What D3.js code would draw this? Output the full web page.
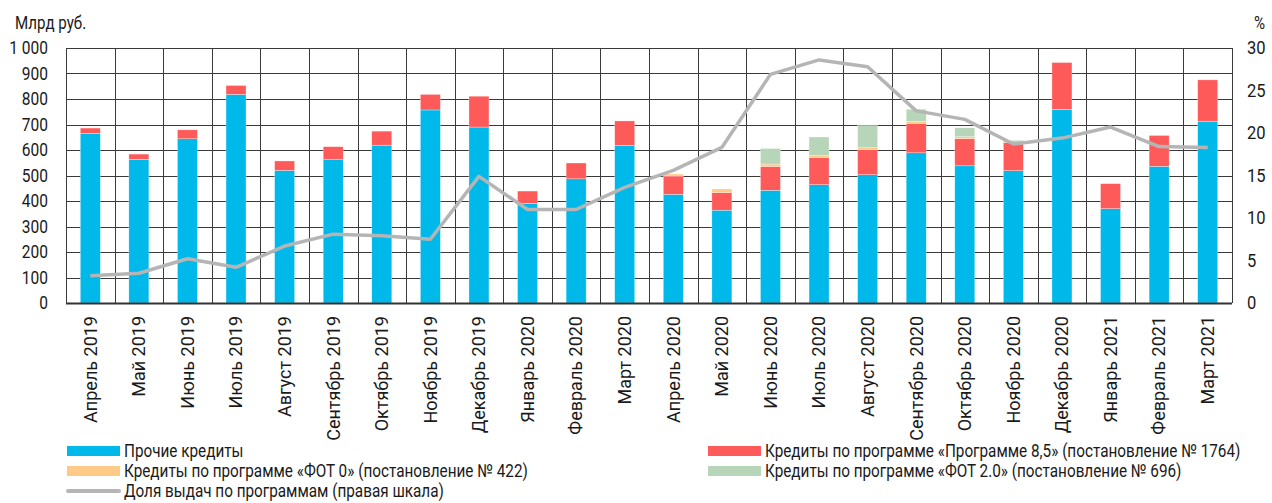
<!DOCTYPE html>
<html>
<head>
<meta charset="utf-8">
<script src="https://cdnjs.cloudflare.com/ajax/libs/d3/7.8.5/d3.min.js"></script>
<style>
  body { margin: 0; background: #fff; }
  svg text { font-family: Roboto, "Noto Sans", sans-serif; fill: #1a1a1a; }
</style>
</head>
<body>
<div id="chart"></div>
<script>
// Месяцы
const months = ["Апрель 2019", "Май 2019", "Июнь 2019", "Июль 2019", "Август 2019", "Сентябрь 2019",
  "Октябрь 2019", "Ноябрь 2019", "Декабрь 2019", "Январь 2020", "Февраль 2020", "Март 2020",
  "Апрель 2020", "Май 2020", "Июнь 2020", "Июль 2020", "Август 2020", "Сентябрь 2020",
  "Октябрь 2020", "Ноябрь 2020", "Декабрь 2020", "Январь 2021", "Февраль 2021", "Март 2021"];

// Серии, млрд руб.
const other   = [665, 563, 644, 818, 520, 562, 619, 757, 690, 391, 487, 618, 426, 364, 442, 464, 503, 589, 538, 519, 759, 370, 536, 713];
const prog85  = [21, 21, 35, 35, 37, 51, 55, 61, 121, 48, 62, 96, 72, 69, 93, 106, 98, 115, 106, 111, 184, 98, 121, 162];
const fot0    = [0, 0, 0, 0, 0, 0, 0, 0, 0, 0, 0, 0, 8, 14, 10, 8, 8, 8, 8, 0, 0, 0, 0, 0];
const fot20   = [0, 0, 0, 0, 0, 0, 0, 0, 0, 0, 0, 0, 0, 0, 61, 73, 87, 48, 35, 8, 0, 0, 0, 0];
// Доля выдач по программам, %
const share   = [3.2, 3.5, 5.2, 4.2, 6.7, 8.1, 7.9, 7.5, 14.9, 11.0, 11.0, 13.6, 15.6, 18.3, 26.9, 28.6, 27.8, 22.6, 21.6, 18.7, 19.4, 20.7, 18.4, 18.3];

const leftTicks = [0, 100, 200, 300, 400, 500, 600, 700, 800, 900, 1000];
const rightTicks = [0, 5, 10, 15, 20, 25, 30];

const colors = { other: "#00b9eb", prog85: "#ff5a5a", fot0: "#ffc987", fot20: "#b7d5b9" };

const legendLeft = [
  { key: "other", label: "Прочие кредиты" },
  { key: "fot0", label: "Кредиты по программе «ФОТ 0» (постановление № 422)" },
  { key: "line", label: "Доля выдач по программам (правая шкала)" }
];
const legendRight = [
  { key: "prog85", label: "Кредиты по программе «Программе 8,5» (постановление № 1764)" },
  { key: "fot20", label: "Кредиты по программе «ФОТ 2.0» (постановление № 696)" }
];

const width = 1272, height = 503;
const margin = { top: 48, right: 40, bottom: 200, left: 66 };
const innerW = width - margin.left - margin.right;
const innerH = height - margin.top - margin.bottom;
const narrow = 0.84; // сжатие шрифта по горизонтали

// Таблица для stack
const table = months.map((m, i) => ({
  month: m, other: other[i], prog85: prog85[i], fot0: fot0[i], fot20: fot20[i]
}));
// порядок снизу вверх: прочие, 8,5, ФОТ 0, ФОТ 2.0
const stack = d3.stack().keys(["other", "prog85", "fot0", "fot20"])(table);

const svg = d3.select("#chart").append("svg")
  .attr("width", width)
  .attr("height", height);

const g = svg.append("g").attr("transform", `translate(${margin.left},${margin.top})`);

const x = d3.scaleBand().domain(months).range([0, innerW]).paddingInner(0).paddingOuter(0);
const y = d3.scaleLinear().domain([0, 1000]).range([innerH, 0]);
const y2 = d3.scaleLinear().domain([0, 30]).range([innerH, 0]);

const fmt = d3.formatLocale({ decimal: ",", thousands: " ", grouping: [3], currency: ["", ""] }).format(",d");

// Сетка
g.append("g")
  .selectAll("line")
  .data(leftTicks)
  .join("line")
  .attr("x1", 0).attr("x2", innerW)
  .attr("y1", d => Math.round(y(d)) + 0.5).attr("y2", d => Math.round(y(d)) + 0.5)
  .attr("stroke", "#3a3a3a").attr("stroke-width", 1);

g.append("g")
  .selectAll("line")
  .data(d3.range(months.length + 1))
  .join("line")
  .attr("x1", d => Math.round(d * x.bandwidth()) + 0.5).attr("x2", d => Math.round(d * x.bandwidth()) + 0.5)
  .attr("y1", 0).attr("y2", innerH)
  .attr("stroke", "#3a3a3a").attr("stroke-width", 1);

// Столбики
const barW = 20;
g.append("g")
  .selectAll("g")
  .data(stack)
  .join("g")
  .attr("fill", d => colors[d.key])
  .selectAll("rect")
  .data(d => d)
  .join("rect")
  .attr("x", d => x(d.data.month) + (x.bandwidth() - barW) / 2)
  .attr("y", d => y(d[1]))
  .attr("width", barW)
  .attr("height", d => Math.max(0, y(d[0]) - y(d[1])))
  .attr("stroke", "#ffffff").attr("stroke-opacity", 0.6).attr("stroke-width", 0.5);

// Нижняя ось
g.append("line")
  .attr("x1", 0).attr("x2", innerW)
  .attr("y1", innerH + 0.5).attr("y2", innerH + 0.5)
  .attr("stroke", "#333").attr("stroke-width", 2);

// Линия доли
const line = d3.line()
  .x((d, i) => x(months[i]) + x.bandwidth() / 2)
  .y(d => y2(d));

g.append("path")
  .datum(share)
  .attr("d", line)
  .attr("fill", "none")
  .attr("stroke", "#b5b5b5")
  .attr("stroke-width", 3.5)
  .attr("stroke-linejoin", "round");

// Левая ось
const yAxis = d3.axisLeft(y).tickValues(leftTicks).tickFormat(fmt).tickSize(0);
g.append("g").call(yAxis)
  .call(s => s.select(".domain").remove())
  .selectAll("text")
  .attr("font-family", null)
  .style("font-size", "18.5px")
  .attr("x", -18 / narrow)
  .attr("transform", `scale(${narrow},1)`);

// Правая ось
const yAxis2 = d3.axisRight(y2).tickValues(rightTicks).tickSize(0);
g.append("g").attr("transform", `translate(${innerW},0)`).call(yAxis2)
  .call(s => s.select(".domain").remove())
  .selectAll("text")
  .attr("font-family", null)
  .style("font-size", "18px")
  .attr("x", 15 / 0.92)
  .attr("transform", "scale(0.92,1)");

// Подписи месяцев
const xAxis = d3.axisBottom(x).tickSize(0).tickPadding(0);
g.append("g").attr("transform", `translate(0,${innerH})`).call(xAxis)
  .call(s => s.select(".domain").remove())
  .selectAll("text")
  .attr("font-family", null)
  .style("font-size", "18px")
  .attr("transform", "rotate(-90)")
  .attr("text-anchor", "end")
  .attr("x", -13)
  .attr("y", 0)
  .attr("dy", "0.35em");

// Единицы
svg.append("text").attr("transform", `translate(15,29) scale(${narrow},1)`)
  .style("font-size", "18px").text("Млрд руб.");
svg.append("text").attr("transform", `translate(1265,29) scale(${narrow},1)`)
  .attr("text-anchor", "end").style("font-size", "18px").text("%");

// Легенда
function drawLegend(items, x0, y0, rowH) {
  const lg = svg.append("g").attr("transform", `translate(${x0},${y0})`);
  const rows = lg.selectAll("g").data(items).join("g")
    .attr("transform", (d, i) => `translate(0,${i * rowH})`);
  rows.each(function (d) {
    const r = d3.select(this);
    if (d.key === "line") {
      r.append("line").attr("x1", 1).attr("x2", 52).attr("y1", 0).attr("y2", 0)
        .attr("stroke", "#b5b5b5").attr("stroke-width", 4).attr("stroke-linecap", "round");
    } else {
      r.append("rect").attr("x", 0).attr("y", -5).attr("width", 53).attr("height", 10)
        .attr("fill", colors[d.key]);
    }
    r.append("text").attr("transform", `translate(57,0) scale(0.85,1)`).attr("dy", "0.35em")
      .style("font-size", "18px").text(d.label);
  });
}
drawLegend(legendLeft, 67, 451, 20);
drawLegend(legendRight, 708, 451, 20);
</script>
</body>
</html>
